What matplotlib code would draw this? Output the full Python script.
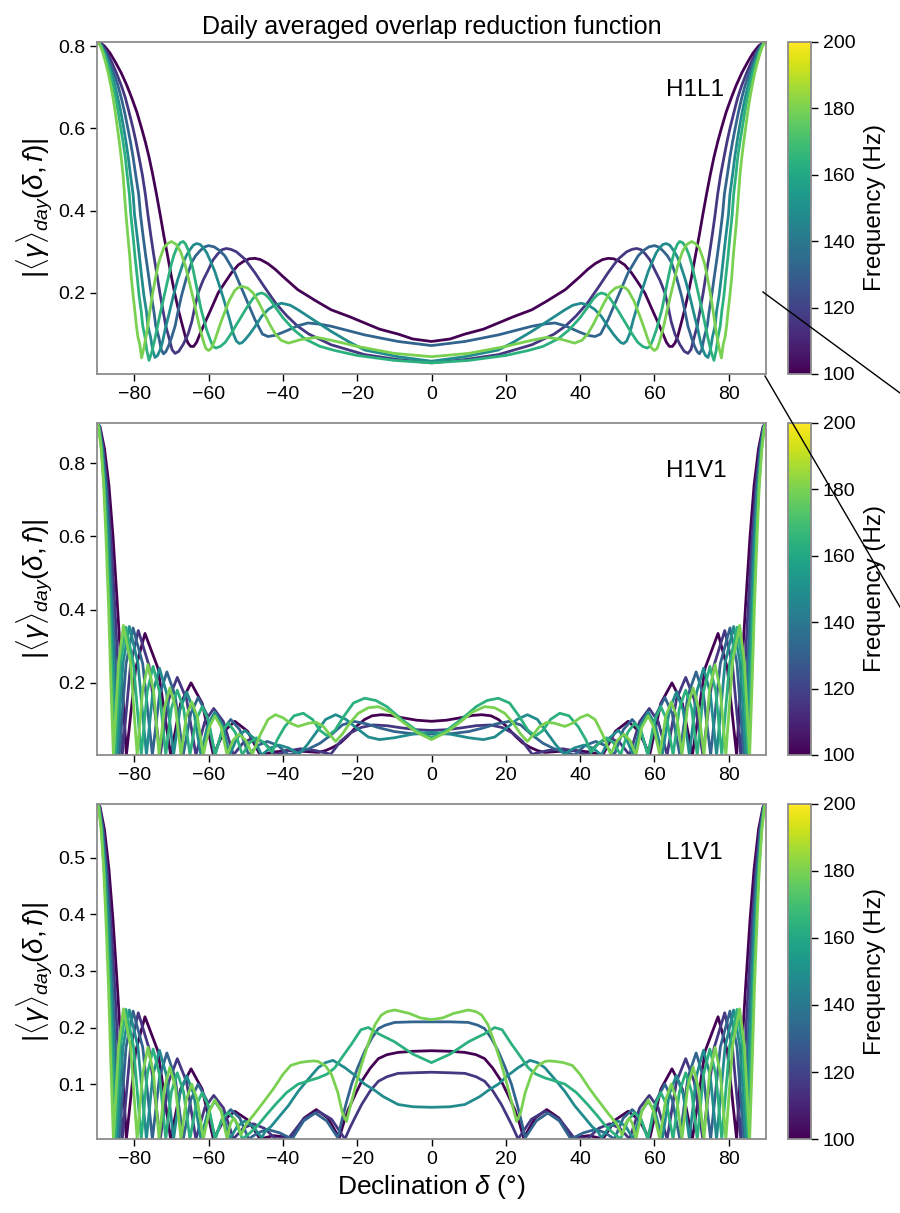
import numpy as np
import matplotlib
matplotlib.use("Agg")
import matplotlib.pyplot as plt
from matplotlib.lines import Line2D

plt.rcParams['font.family'] = ['Liberation Sans', 'DejaVu Sans']
plt.rcParams['mathtext.fontset'] = 'custom'
plt.rcParams['mathtext.rm'] = 'Liberation Sans'
plt.rcParams['mathtext.it'] = 'Liberation Sans:italic'

freqs = [100, 116, 132, 148, 164, 180]
panel_names = ["H1L1", "H1V1", "L1V1"]
ylims = [(0.003, 0.81), (0.003, 0.91), (0.003, 0.595)]

# declination >= 0 only (curves are mirror symmetric)
h1l1_f100 = [(0,.082),(5,.088),(9,.1),(14,.112),(18,.127),(22,.142),(27,.159),(31,.18),(36,.208),(40,.24),(42,.257),(44,.271),(46,.281),(47.5,.284),(49,.283),(50.5,.277),(52,.268),(53.8,.249),(55.6,.225),(57.4,.2),(59.2,.163),(61,.127),(62.3,.1),(63.2,.08),(64,.07),(64.8,.07),(65.5,.078),(66.2,.093),(67,.12),(68,.155),(69,.195),(70,.24),(71,.29),(72,.338),(73,.39),(74,.44),(75,.487),(76,.53),(77,.567),(78,.6),(79.3,.64),(80.7,.675),(82,.705),(83.5,.735),(85,.76),(86.5,.783),(88,.8),(89,.807),(90,.81)]
h1l1_f116 = [(0,.03),(9,.038),(18,.05),(27,.074),(33,.1),(36,.119),(39,.145),(42,.176),(45,.215),(47.5,.249),(50.2,.282),(52.5,.3),(54,.306),(55.2,.308),(56.4,.305),(57.5,.295),(58.8,.28),(60,.257),(61.5,.23),(62.8,.2),(63.7,.165),(64.5,.13),(65.5,.1),(66.8,.075),(68,.058),(69,.053),(69.8,.062),(70.7,.093),(71.5,.12),(72.2,.155),(73,.195),(73.8,.24),(74.7,.29),(75.5,.338),(76.3,.39),(77,.44),(77.8,.487),(78.7,.53),(79.5,.567),(80.3,.6),(81.4,.64),(82.4,.675),(83.5,.705),(84.8,.735),(86,.76),(87.2,.783),(88.4,.8),(89.2,.807),(90,.81)]
h1l1_f132 = [(0,.072),(9,.082),(18,.098),(27,.119),(30,.124),(33.2,.127),(36,.12),(39.5,.106),(42,.097),(44,.094),(45.5,.1),(47.5,.135),(50.2,.192),(52.9,.249),(55.6,.29),(57,.303),(58.5,.312),(60,.315),(61.3,.311),(62.3,.302),(63.5,.29),(64.6,.273),(66,.235),(67.3,.192),(68.2,.155),(69,.119),(70,.09),(70.8,.07),(71.5,.057),(72.1,.052),(72.7,.062),(73.4,.093),(74.2,.12),(74.7,.155),(75.4,.195),(76.1,.24),(76.9,.29),(77.6,.338),(78.3,.39),(78.8,.44),(79.6,.487),(80.3,.53),(81,.567),(81.7,.6),(82.6,.64),(83.5,.675),(84.4,.705),(85.5,.735),(86.6,.76),(87.6,.783),(88.6,.8),(89.3,.807),(90,.81)]
h1l1_f148 = [(0,.034),(9,.045),(17.9,.061),(22,.08),(26.9,.106),(31,.13),(35.9,.159),(38,.17),(40.3,.175),(42.2,.17),(43.9,.16),(45.7,.143),(47.5,.118),(49,.099),(50.2,.086),(51,.079),(51.7,.077),(52.5,.083),(53.3,.1),(54.3,.135),(55.7,.178),(57,.216),(58.3,.252),(59.6,.28),(60.5,.298),(61.5,.311),(62.3,.318),(63.2,.32),(64.1,.316),(65,.305),(66,.29),(66.8,.273),(68.2,.235),(69.5,.192),(70.6,.15),(71.7,.11),(72.4,.08),(73,.062),(73.7,.048),(74.4,.043),(75,.06),(75.6,.093),(76.3,.12),(76.7,.155),(77.4,.195),(78,.24),(78.6,.29),(79.2,.338),(79.9,.39),(80.3,.44),(81,.487),(81.6,.53),(82.2,.567),(82.8,.6),(83.6,.64),(84.4,.675),(85.2,.705),(86.1,.735),(87,.76),(87.9,.783),(88.8,.8),(89.4,.807),(90,.81)]
h1l1_f164 = [(0,.03),(10,.036),(20,.048),(26,.06),(30,.07),(34,.088),(37,.11),(40,.14),(42,.165),(43.5,.185),(44.7,.196),(45.7,.2),(46.8,.197),(48,.187),(50,.16),(52,.13),(54,.1),(55.5,.08),(56.8,.07),(58,.066),(58.8,.07),(59.5,.085),(60.5,.11),(62,.16),(63,.205),(64,.25),(64.8,.282),(65.5,.305),(66.2,.319),(66.8,.325),(67.6,.322),(68.5,.31),(69.3,.292),(70,.27),(71.5,.21),(73,.15),(74.5,.085),(75.3,.055),(76,.036),(76.6,.06),(77.1,.093),(77.7,.12),(78.1,.155),(78.7,.195),(79.2,.24),(79.8,.29),(80.3,.338),(80.9,.39),(81.3,.44),(81.9,.487),(82.4,.53),(83,.567),(83.6,.6),(84.3,.64),(85,.675),(85.7,.705),(86.5,.735),(87.3,.76),(88.1,.783),(88.9,.8),(89.5,.807),(90,.81)]
h1l1_f180 = [(0,.045),(10,.053),(20,.07),(27,.085),(31,.092),(35,.087),(38.5,.078),(40.5,.085),(42,.1),(43.5,.123),(45,.15),(46.5,.177),(48,.2),(49.5,.212),(51,.216),(52.2,.212),(53,.205),(54.5,.18),(56,.145),(57,.12),(58.5,.08),(59.3,.065),(60,.06),(60.7,.065),(61.3,.08),(62.5,.12),(63.7,.17),(65,.22),(66.2,.265),(67.5,.3),(68.7,.318),(70,.325),(71,.32),(72,.31),(73,.285),(73.5,.27),(74.3,.235),(75,.2),(75.8,.155),(76.5,.11),(77.3,.07),(78,.042),(78.5,.075),(79,.093),(79.4,.12),(79.8,.155),(80.3,.195),(80.8,.24),(81.2,.29),(81.7,.338),(82.2,.39),(82.6,.44),(83,.487),(83.5,.53),(84,.567),(84.5,.6),(85.1,.64),(85.7,.675),(86.3,.705),(87,.735),(87.7,.76),(88.4,.783),(89.1,.8),(89.5,.807),(90,.81)]

h1v1_f100 = [(0,.095),(4,.098),(8,.105),(11,.111),(13.5,.113),(16,.11),(18,.1),(20,.083),(22.4,.056),(24.5,.036),(26.5,.024),(28.5,.015),(30.4,.01),(34.7,.013),(39,.015),(42.5,.011),(46.1,.003),(49.5,.068),(52.9,.095),(55.8,.068),(58.7,.003),(61.7,.144),(64.7,.2),(67.5,.144),(70.2,.003),(73.6,.24),(77.1,.335),(79.6,.24),(82.1,.003),(83.3,.21),(84.5,.41),(85.7,.6),(86.8,.74),(88,.84),(89.2,.9),(90,.91)]
h1v1_f116 = [(0,.07),(4,.072),(8,.077),(12,.083),(15.8,.085),(19,.078),(22,.062),(24.5,.04),(27.1,.005),(31.2,.015),(35.3,.02),(38.6,.014),(41.9,.003),(45,.036),(48,.05),(50.7,.036),(53.3,.003),(56,.094),(58.6,.13),(61,.094),(63.4,.003),(65.9,.155),(68.4,.215),(70.7,.155),(73,.003),(76,.247),(78.9,.343),(81,.247),(83.2,.003),(84.2,.21),(85.2,.41),(86.3,.6),(87.3,.74),(88.3,.84),(89.3,.9),(90,.91)]
h1v1_f132 = [(0,.06),(5,.061),(10,.067),(14,.077),(17.5,.088),(21,.095),(24,.085),(27,.058),(30,.035),(33,.02),(36,.01),(38.5,.003),(41.3,.029),(44.2,.04),(46.7,.029),(49.2,.003),(51.6,.072),(54,.1),(56.2,.072),(58.3,.003),(60.5,.115),(62.8,.16),(64.8,.115),(66.8,.003),(69,.166),(71.2,.23),(73.2,.166),(75.1,.003),(77.7,.252),(80.3,.35),(82.2,.252),(84,.003),(84.9,.21),(85.8,.41),(86.7,.6),(87.6,.74),(88.5,.84),(89.4,.9),(90,.91)]
h1v1_f148 = [(0,.065),(5,.06),(10,.05),(14,.045),(17,.052),(20,.075),(23,.1),(25.8,.113),(28.5,.1),(31,.065),(33.5,.03),(35.7,.005),(38.4,.022),(41,.03),(43.4,.022),(45.7,.003),(48,.05),(50.2,.07),(52.3,.05),(54.3,.003),(56.3,.086),(58.3,.12),(60.2,.086),(62.1,.003),(64,.126),(65.9,.175),(67.7,.126),(69.4,.003),(71.3,.173),(73.2,.24),(75,.173),(76.7,.003),(79,.255),(81.3,.354),(83,.255),(84.6,.003),(85.4,.21),(86.2,.41),(87,.6),(87.8,.74),(88.7,.84),(89.5,.9),(90,.91)]
h1v1_f164 = [(0,.05),(4,.07),(8,.1),(12,.135),(15,.152),(18,.158),(21,.145),(23.5,.11),(26,.07),(28,.055),(30,.07),(32,.1),(34.5,.117),(37,.11),(39.5,.08),(41.5,.045),(42.9,.01),(45,.036),(47.1,.05),(49,.036),(50.9,.003),(52.8,.065),(54.7,.09),(56.5,.065),(58.2,.003),(60,.097),(61.7,.135),(63.4,.097),(65,.003),(66.7,.13),(68.4,.18),(70,.13),(71.5,.003),(73.2,.176),(74.9,.245),(76.5,.176),(78.1,.003),(80.2,.253),(82.2,.352),(83.7,.253),(85.2,.003),(85.9,.21),(86.6,.41),(87.4,.6),(88.1,.74),(88.8,.84),(89.5,.9),(90,.91)]
h1v1_f180 = [(0,.045),(4,.065),(8,.095),(11,.12),(14.3,.135),(17,.132),(19.7,.117),(22,.09),(24,.06),(25.8,.04),(27.5,.06),(29,.08),(31,.092),(33,.09),(35.9,.081),(38,.09),(40,.105),(42,.113),(44,.1),(46,.06),(48.2,.005),(50,.043),(51.8,.06),(53.4,.043),(55,.003),(56.6,.079),(58.3,.11),(59.8,.079),(61.4,.003),(63,.107),(64.5,.148),(66,.107),(67.4,.003),(68.9,.134),(70.4,.186),(71.8,.134),(73.3,.003),(74.8,.18),(76.3,.25),(77.7,.18),(79.2,.003),(81,.257),(82.9,.357),(84.2,.257),(85.6,.003),(86.3,.21),(86.9,.41),(87.6,.6),(88.2,.74),(88.9,.84),(89.6,.9),(90,.91)]

l1v1_f100 = [(0,.159),(5,.158),(9,.156),(12,.152),(14.3,.145),(16.5,.128),(18.8,.105),(20.5,.082),(22.4,.055),(23.7,.03),(24.8,.005),(27.9,.04),(31,.055),(34.3,.04),(37.7,.003),(40,.007),(42.5,.009),(46.1,.003),(49.5,.037),(52.9,.052),(55.8,.037),(58.7,.003),(61.7,.091),(64.7,.127),(67.5,.091),(70.2,.003),(73.6,.158),(77.1,.219),(79.6,.158),(82.1,.003),(83.3,.14),(84.5,.27),(85.7,.39),(86.8,.48),(88,.55),(89.2,.59),(90,.595)]
l1v1_f116 = [(0,.121),(5,.12),(9,.119),(12,.113),(14.3,.105),(16.5,.088),(18.8,.064),(20.5,.042),(21.8,.025),(23.3,.003),(26.9,.038),(30.5,.052),(34.5,.038),(38.6,.003),(40.3,.005),(41.9,.003),(45,.022),(48,.03),(50.7,.022),(53.3,.003),(56,.058),(58.6,.08),(61,.058),(63.4,.003),(65.9,.104),(68.4,.145),(70.7,.104),(73,.003),(76,.163),(78.9,.226),(81,.163),(83.2,.003),(84.2,.14),(85.2,.27),(86.3,.39),(87.3,.48),(88.3,.55),(89.3,.59),(90,.595)]
l1v1_f132 = [(0,.21),(5,.21),(9.9,.209),(12.5,.204),(14.3,.198),(16,.182),(17.9,.159),(19.8,.13),(21.5,.1),(23,.065),(24.2,.034),(25.2,.005),(28.2,.035),(31.3,.049),(34.4,.035),(37.5,.003),(40.9,.014),(44.2,.02),(46.7,.014),(49.2,.003),(51.6,.04),(54,.055),(56.2,.04),(58.3,.003),(60.5,.072),(62.8,.1),(64.8,.072),(66.8,.003),(69,.112),(71.2,.155),(73.2,.112),(75.1,.003),(77.7,.165),(80.3,.229),(82.2,.165),(84,.003),(84.9,.14),(85.8,.27),(86.7,.39),(87.6,.48),(88.5,.55),(89.4,.59),(90,.595)]
l1v1_f148 = [(0,.059),(5,.06),(9,.064),(13,.078),(15.5,.09),(18,.1),(20.5,.115),(23.3,.129),(26.5,.142),(28.5,.138),(30.5,.129),(33,.11),(35.9,.087),(38.5,.062),(41.3,.04),(43.2,.025),(44.8,.016),(45.7,.005),(48,.025),(50.2,.035),(52.3,.025),(54.3,.003),(56.3,.05),(58.3,.07),(60.2,.05),(62.1,.003),(64,.083),(65.9,.115),(67.7,.083),(69.4,.003),(71.3,.115),(73.2,.16),(75,.115),(76.7,.003),(79,.166),(81.3,.231),(83,.166),(84.6,.003),(85.4,.14),(86.2,.27),(87,.39),(87.8,.48),(88.7,.55),(89.5,.59),(90,.595)]
l1v1_f164 = [(0,.138),(5,.153),(10,.175),(14.3,.189),(17,.2),(19,.196),(21.5,.171),(24,.148),(26,.129),(28,.118),(30.5,.111),(33,.106),(35.9,.1),(39,.085),(42,.064),(44.5,.045),(46.6,.028),(48.8,.014),(50.9,.003),(52.8,.036),(54.7,.05),(56.5,.036),(58.2,.003),(60,.061),(61.7,.085),(63.4,.061),(65,.003),(66.7,.086),(68.4,.12),(70,.086),(71.5,.003),(73.2,.117),(74.9,.162),(76.5,.117),(78.1,.003),(80.2,.167),(82.2,.232),(83.7,.167),(85.2,.003),(85.9,.14),(86.6,.27),(87.4,.39),(88.1,.48),(88.8,.55),(89.5,.59),(90,.595)]
l1v1_f180 = [(0,.214),(3,.217),(6,.225),(9.9,.231),(12,.228),(13.5,.222),(15.2,.205),(17,.172),(18.8,.135),(20.3,.1),(21.8,.062),(22.9,.034),(24,.05),(25.2,.085),(26.9,.117),(28.5,.132),(30.5,.14),(31.6,.141),(33.5,.14),(35.5,.138),(37.9,.133),(40,.117),(42.4,.093),(45,.07),(47.8,.046),(49.8,.03),(51.3,.01),(52.2,.03),(53.2,.04),(54.1,.03),(55,.003),(56.6,.052),(58.3,.072),(59.8,.052),(61.4,.003),(63,.072),(64.5,.1),(66,.072),(67.4,.003),(68.9,.094),(70.4,.13),(71.8,.094),(73.3,.003),(74.8,.119),(76.3,.165),(77.7,.119),(79.2,.003),(81,.168),(82.9,.233),(84.2,.168),(85.6,.003),(86.3,.14),(86.9,.27),(87.6,.39),(88.2,.48),(88.9,.55),(89.6,.59),(90,.595)]

panel_data = [
    [h1l1_f100, h1l1_f116, h1l1_f132, h1l1_f148, h1l1_f164, h1l1_f180],
    [h1v1_f100, h1v1_f116, h1v1_f132, h1v1_f148, h1v1_f164, h1v1_f180],
    [l1v1_f100, l1v1_f116, l1v1_f132, l1v1_f148, l1v1_f164, l1v1_f180],
]


def mirrored(points):
    d = np.array([p[0] for p in points])
    v = np.array([p[1] for p in points])
    return np.concatenate([-d[::-1], d[1:]]), np.concatenate([v[::-1], v[1:]])


cmap = plt.get_cmap('viridis')
norm = matplotlib.colors.Normalize(vmin=100, vmax=200)

fig = plt.figure(figsize=(9, 12.13), dpi=100)
ax_pos = [(0.1078, 0.6917, 0.7433, 0.2737),
          (0.1078, 0.3776, 0.7433, 0.2737),
          (0.1078, 0.0610, 0.7433, 0.2762)]
grey = '#8c8c8c'

axes = []
for i, pos in enumerate(ax_pos):
    ax = fig.add_axes(pos)
    for f, pts in zip(freqs, panel_data[i]):
        x, y = mirrored(pts)
        ax.plot(x, y, color=cmap(norm(f)), lw=2, solid_joinstyle='round')
    ax.set_xlim(-90, 90)
    ax.set_ylim(*ylims[i])
    ax.set_xticks([-80, -60, -40, -20, 0, 20, 40, 60, 80])
    ax.tick_params(labelsize=14, length=5, width=1, color='black')
    for s in ax.spines.values():
        s.set_color(grey)
        s.set_linewidth(1.3)
    ax.set_ylabel(r'$|\langle\gamma\rangle_{day}(\delta, f)|$', fontsize=20, labelpad=2)
    ax.text(0.85, 0.855, panel_names[i], transform=ax.transAxes, fontsize=17.5, va='center')
    cax = fig.add_axes((0.8756, pos[1], 0.0256, pos[3]))
    sm = matplotlib.cm.ScalarMappable(norm=norm, cmap=cmap)
    cb = fig.colorbar(sm, cax=cax, ticks=[100, 120, 140, 160, 180, 200])
    cb.outline.set_edgecolor(grey)
    cb.outline.set_linewidth(1.3)
    cax.tick_params(labelsize=14, length=5, width=1)
    cb.set_label('Frequency (Hz)', fontsize=17.5, labelpad=6)
    axes.append(ax)

axes[0].set_yticks([0.2, 0.4, 0.6, 0.8])
axes[1].set_yticks([0.2, 0.4, 0.6, 0.8])
axes[2].set_yticks([0.1, 0.2, 0.3, 0.4, 0.5])
axes[0].set_title('Daily averaged overlap reduction function', fontsize=18, pad=6)
axes[2].set_xlabel(r'Declination $\delta$ ($\degree$)', fontsize=19)

# leftover zoom connector lines running off the right edge
fig.lines.append(Line2D([763/900, 1.0], [1-292/1213, 1-393/1213], transform=fig.transFigure, color='black', lw=1))
fig.lines.append(Line2D([765/900, 1.0], [1-376/1213, 1-607/1213], transform=fig.transFigure, color='black', lw=1))

fig.savefig('out.png', dpi=100)
